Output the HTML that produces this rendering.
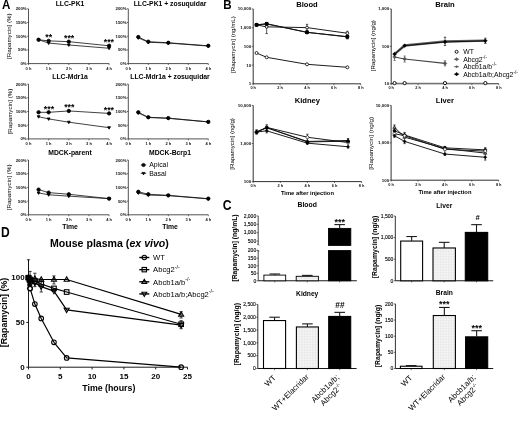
<!DOCTYPE html>
<html><head><meta charset="utf-8"><style>
html,body{margin:0;padding:0;background:#fff;width:520px;height:424px;overflow:hidden}
svg{display:block;font-family:"Liberation Sans",sans-serif;filter:blur(0.45px)}
</style></head><body>
<svg width="520" height="424" viewBox="0 0 520 424">
<defs><pattern id="dots" width="1.6" height="1.6" patternUnits="userSpaceOnUse"><rect width="1.6" height="1.6" fill="#f3f3f3"/><rect width="0.8" height="0.8" fill="#e2e2e2"/></pattern></defs>
<rect width="520" height="424" fill="#fff"/>
<text x="0" y="0" font-size="13.2" text-anchor="start" font-weight="bold" fill="#000" transform="translate(1.9 9) scale(0.88 1)">A</text>
<text x="0" y="0" font-size="13.2" text-anchor="start" font-weight="bold" fill="#000" transform="translate(223.2 9.2) scale(0.88 1)">B</text>
<text x="0" y="0" font-size="14" text-anchor="start" font-weight="bold" fill="#000" transform="translate(222.7 209.8) scale(0.87 1)">C</text>
<text x="0" y="0" font-size="13.8" text-anchor="start" font-weight="bold" fill="#000" transform="translate(1 237.4) scale(0.87 1)">D</text>
<line x1="28.5" y1="8.8" x2="28.5" y2="63.6" stroke="#333" stroke-width="0.85"/>
<line x1="28.5" y1="63.6" x2="109.1" y2="63.6" stroke="#333" stroke-width="0.85"/>
<line x1="27.1" y1="63.6" x2="28.5" y2="63.6" stroke="#1a1a1a" stroke-width="0.6"/>
<text x="26.7" y="65.1" font-size="4.3" text-anchor="end" font-weight="bold" fill="#111">0%</text>
<line x1="27.1" y1="49.9" x2="28.5" y2="49.9" stroke="#1a1a1a" stroke-width="0.6"/>
<text x="26.7" y="51.4" font-size="4.3" text-anchor="end" font-weight="bold" fill="#111">50%</text>
<line x1="27.1" y1="36.2" x2="28.5" y2="36.2" stroke="#1a1a1a" stroke-width="0.6"/>
<text x="26.7" y="37.7" font-size="4.3" text-anchor="end" font-weight="bold" fill="#111">100%</text>
<line x1="27.1" y1="22.5" x2="28.5" y2="22.5" stroke="#1a1a1a" stroke-width="0.6"/>
<text x="26.7" y="24" font-size="4.3" text-anchor="end" font-weight="bold" fill="#111">150%</text>
<line x1="27.1" y1="8.8" x2="28.5" y2="8.8" stroke="#1a1a1a" stroke-width="0.6"/>
<text x="26.7" y="10.3" font-size="4.3" text-anchor="end" font-weight="bold" fill="#111">200%</text>
<line x1="28.5" y1="63.6" x2="28.5" y2="65" stroke="#1a1a1a" stroke-width="0.6"/>
<text x="28.5" y="69.5" font-size="4" text-anchor="middle" font-weight="bold" fill="#111">0 h</text>
<line x1="48.65" y1="63.6" x2="48.65" y2="65" stroke="#1a1a1a" stroke-width="0.6"/>
<text x="48.65" y="69.5" font-size="4" text-anchor="middle" font-weight="bold" fill="#111">1 h</text>
<line x1="68.8" y1="63.6" x2="68.8" y2="65" stroke="#1a1a1a" stroke-width="0.6"/>
<text x="68.8" y="69.5" font-size="4" text-anchor="middle" font-weight="bold" fill="#111">2 h</text>
<line x1="88.95" y1="63.6" x2="88.95" y2="65" stroke="#1a1a1a" stroke-width="0.6"/>
<text x="88.95" y="69.5" font-size="4" text-anchor="middle" font-weight="bold" fill="#111">3 h</text>
<line x1="109.1" y1="63.6" x2="109.1" y2="65" stroke="#1a1a1a" stroke-width="0.6"/>
<text x="109.1" y="69.5" font-size="4" text-anchor="middle" font-weight="bold" fill="#111">4 h</text>
<text x="70" y="6.1" font-size="6.8" text-anchor="middle" font-weight="bold" fill="#000">LLC-PK1</text>
<text x="11.5" y="36.2" font-size="6.2" text-anchor="middle" fill="#000" transform="rotate(-90 11.5 36.2)">[Rapamycin] (%)</text>
<polyline points="38.58,39.76 48.65,43.05 68.8,44.97 109.1,48.26" fill="none" stroke="#111" stroke-width="0.8" stroke-linejoin="round"/>
<polyline points="38.58,39.76 48.65,40.86 68.8,41.68 109.1,45.79" fill="none" stroke="#111" stroke-width="0.8" stroke-linejoin="round"/>
<polygon points="38.58,41.26 40.01,38.79 37.15,38.79" fill="#000" stroke="#000" stroke-width="0.8"/>
<polygon points="48.65,44.54 50.08,42.07 47.22,42.07" fill="#000" stroke="#000" stroke-width="0.8"/>
<polygon points="68.8,46.46 70.23,43.99 67.37,43.99" fill="#000" stroke="#000" stroke-width="0.8"/>
<polygon points="109.1,49.75 110.53,47.28 107.67,47.28" fill="#000" stroke="#000" stroke-width="0.8"/>
<circle cx="38.58" cy="39.76" r="1.7" fill="#000" stroke="#000" stroke-width="0.8"/>
<circle cx="48.65" cy="40.86" r="1.7" fill="#000" stroke="#000" stroke-width="0.8"/>
<circle cx="68.8" cy="41.68" r="1.7" fill="#000" stroke="#000" stroke-width="0.8"/>
<circle cx="109.1" cy="45.79" r="1.7" fill="#000" stroke="#000" stroke-width="0.8"/>
<text x="48.8" y="39.6" font-size="8.8" text-anchor="middle" font-weight="bold" fill="#000">**</text>
<text x="69.1" y="40.7" font-size="8.8" text-anchor="middle" font-weight="bold" fill="#000">***</text>
<text x="108.9" y="45.3" font-size="8.8" text-anchor="middle" font-weight="bold" fill="#000">***</text>
<line x1="128.3" y1="8.8" x2="128.3" y2="63.6" stroke="#333" stroke-width="0.85"/>
<line x1="128.3" y1="63.6" x2="208.3" y2="63.6" stroke="#333" stroke-width="0.85"/>
<line x1="126.9" y1="63.6" x2="128.3" y2="63.6" stroke="#1a1a1a" stroke-width="0.6"/>
<text x="126.5" y="65.1" font-size="4.3" text-anchor="end" font-weight="bold" fill="#111">0%</text>
<line x1="126.9" y1="49.9" x2="128.3" y2="49.9" stroke="#1a1a1a" stroke-width="0.6"/>
<text x="126.5" y="51.4" font-size="4.3" text-anchor="end" font-weight="bold" fill="#111">50%</text>
<line x1="126.9" y1="36.2" x2="128.3" y2="36.2" stroke="#1a1a1a" stroke-width="0.6"/>
<text x="126.5" y="37.7" font-size="4.3" text-anchor="end" font-weight="bold" fill="#111">100%</text>
<line x1="126.9" y1="22.5" x2="128.3" y2="22.5" stroke="#1a1a1a" stroke-width="0.6"/>
<text x="126.5" y="24" font-size="4.3" text-anchor="end" font-weight="bold" fill="#111">150%</text>
<line x1="126.9" y1="8.8" x2="128.3" y2="8.8" stroke="#1a1a1a" stroke-width="0.6"/>
<text x="126.5" y="10.3" font-size="4.3" text-anchor="end" font-weight="bold" fill="#111">200%</text>
<line x1="128.3" y1="63.6" x2="128.3" y2="65" stroke="#1a1a1a" stroke-width="0.6"/>
<text x="128.3" y="69.5" font-size="4" text-anchor="middle" font-weight="bold" fill="#111">0 h</text>
<line x1="148.3" y1="63.6" x2="148.3" y2="65" stroke="#1a1a1a" stroke-width="0.6"/>
<text x="148.3" y="69.5" font-size="4" text-anchor="middle" font-weight="bold" fill="#111">1 h</text>
<line x1="168.3" y1="63.6" x2="168.3" y2="65" stroke="#1a1a1a" stroke-width="0.6"/>
<text x="168.3" y="69.5" font-size="4" text-anchor="middle" font-weight="bold" fill="#111">2 h</text>
<line x1="188.3" y1="63.6" x2="188.3" y2="65" stroke="#1a1a1a" stroke-width="0.6"/>
<text x="188.3" y="69.5" font-size="4" text-anchor="middle" font-weight="bold" fill="#111">3 h</text>
<line x1="208.3" y1="63.6" x2="208.3" y2="65" stroke="#1a1a1a" stroke-width="0.6"/>
<text x="208.3" y="69.5" font-size="4" text-anchor="middle" font-weight="bold" fill="#111">4 h</text>
<text x="170" y="6.1" font-size="6.8" text-anchor="middle" font-weight="bold" fill="#000">LLC-PK1 + zosuquidar</text>
<polyline points="138.3,37.84 148.3,42.23 168.3,43.05 208.3,46.06" fill="none" stroke="#111" stroke-width="0.8" stroke-linejoin="round"/>
<polyline points="138.3,37.02 148.3,41.68 168.3,42.78 208.3,45.79" fill="none" stroke="#111" stroke-width="0.8" stroke-linejoin="round"/>
<polygon points="138.3,39.34 139.73,36.87 136.87,36.87" fill="#000" stroke="#000" stroke-width="0.8"/>
<polygon points="148.3,43.72 149.73,41.25 146.87,41.25" fill="#000" stroke="#000" stroke-width="0.8"/>
<polygon points="168.3,44.54 169.73,42.07 166.87,42.07" fill="#000" stroke="#000" stroke-width="0.8"/>
<polygon points="208.3,47.56 209.73,45.09 206.87,45.09" fill="#000" stroke="#000" stroke-width="0.8"/>
<circle cx="138.3" cy="37.02" r="1.7" fill="#000" stroke="#000" stroke-width="0.8"/>
<circle cx="148.3" cy="41.68" r="1.7" fill="#000" stroke="#000" stroke-width="0.8"/>
<circle cx="168.3" cy="42.78" r="1.7" fill="#000" stroke="#000" stroke-width="0.8"/>
<circle cx="208.3" cy="45.79" r="1.7" fill="#000" stroke="#000" stroke-width="0.8"/>
<line x1="28.5" y1="84.1" x2="28.5" y2="138.9" stroke="#333" stroke-width="0.85"/>
<line x1="28.5" y1="138.9" x2="109.1" y2="138.9" stroke="#333" stroke-width="0.85"/>
<line x1="27.1" y1="138.9" x2="28.5" y2="138.9" stroke="#1a1a1a" stroke-width="0.6"/>
<text x="26.7" y="140.4" font-size="4.3" text-anchor="end" font-weight="bold" fill="#111">0%</text>
<line x1="27.1" y1="125.2" x2="28.5" y2="125.2" stroke="#1a1a1a" stroke-width="0.6"/>
<text x="26.7" y="126.7" font-size="4.3" text-anchor="end" font-weight="bold" fill="#111">50%</text>
<line x1="27.1" y1="111.5" x2="28.5" y2="111.5" stroke="#1a1a1a" stroke-width="0.6"/>
<text x="26.7" y="113" font-size="4.3" text-anchor="end" font-weight="bold" fill="#111">100%</text>
<line x1="27.1" y1="97.8" x2="28.5" y2="97.8" stroke="#1a1a1a" stroke-width="0.6"/>
<text x="26.7" y="99.3" font-size="4.3" text-anchor="end" font-weight="bold" fill="#111">150%</text>
<line x1="27.1" y1="84.1" x2="28.5" y2="84.1" stroke="#1a1a1a" stroke-width="0.6"/>
<text x="26.7" y="85.6" font-size="4.3" text-anchor="end" font-weight="bold" fill="#111">200%</text>
<line x1="28.5" y1="138.9" x2="28.5" y2="140.3" stroke="#1a1a1a" stroke-width="0.6"/>
<text x="28.5" y="144.8" font-size="4" text-anchor="middle" font-weight="bold" fill="#111">0 h</text>
<line x1="48.65" y1="138.9" x2="48.65" y2="140.3" stroke="#1a1a1a" stroke-width="0.6"/>
<text x="48.65" y="144.8" font-size="4" text-anchor="middle" font-weight="bold" fill="#111">1 h</text>
<line x1="68.8" y1="138.9" x2="68.8" y2="140.3" stroke="#1a1a1a" stroke-width="0.6"/>
<text x="68.8" y="144.8" font-size="4" text-anchor="middle" font-weight="bold" fill="#111">2 h</text>
<line x1="88.95" y1="138.9" x2="88.95" y2="140.3" stroke="#1a1a1a" stroke-width="0.6"/>
<text x="88.95" y="144.8" font-size="4" text-anchor="middle" font-weight="bold" fill="#111">3 h</text>
<line x1="109.1" y1="138.9" x2="109.1" y2="140.3" stroke="#1a1a1a" stroke-width="0.6"/>
<text x="109.1" y="144.8" font-size="4" text-anchor="middle" font-weight="bold" fill="#111">4 h</text>
<text x="70" y="79" font-size="6.8" text-anchor="middle" font-weight="bold" fill="#000">LLC-Mdr1a</text>
<text x="11.5" y="111.5" font-size="6.2" text-anchor="middle" fill="#000" transform="rotate(-90 11.5 111.5)">[Rapamycin] (%)</text>
<polyline points="38.58,116.71 48.65,118.9 68.8,122.19 109.1,127.67" fill="none" stroke="#111" stroke-width="0.8" stroke-linejoin="round"/>
<polyline points="38.58,112.32 48.65,112.32 68.8,110.95 109.1,113.42" fill="none" stroke="#111" stroke-width="0.8" stroke-linejoin="round"/>
<polygon points="38.58,118.2 40.01,115.73 37.15,115.73" fill="#000" stroke="#000" stroke-width="0.8"/>
<polygon points="48.65,120.39 50.08,117.92 47.22,117.92" fill="#000" stroke="#000" stroke-width="0.8"/>
<polygon points="68.8,123.68 70.23,121.21 67.37,121.21" fill="#000" stroke="#000" stroke-width="0.8"/>
<polygon points="109.1,129.16 110.53,126.69 107.67,126.69" fill="#000" stroke="#000" stroke-width="0.8"/>
<circle cx="38.58" cy="112.32" r="1.7" fill="#000" stroke="#000" stroke-width="0.8"/>
<circle cx="48.65" cy="112.32" r="1.7" fill="#000" stroke="#000" stroke-width="0.8"/>
<circle cx="68.8" cy="110.95" r="1.7" fill="#000" stroke="#000" stroke-width="0.8"/>
<circle cx="109.1" cy="113.42" r="1.7" fill="#000" stroke="#000" stroke-width="0.8"/>
<text x="49" y="111.9" font-size="8.8" text-anchor="middle" font-weight="bold" fill="#000">***</text>
<text x="69.3" y="110.1" font-size="8.8" text-anchor="middle" font-weight="bold" fill="#000">***</text>
<text x="108.9" y="113.1" font-size="8.8" text-anchor="middle" font-weight="bold" fill="#000">***</text>
<line x1="128.3" y1="84.1" x2="128.3" y2="138.9" stroke="#333" stroke-width="0.85"/>
<line x1="128.3" y1="138.9" x2="208.3" y2="138.9" stroke="#333" stroke-width="0.85"/>
<line x1="126.9" y1="138.9" x2="128.3" y2="138.9" stroke="#1a1a1a" stroke-width="0.6"/>
<text x="126.5" y="140.4" font-size="4.3" text-anchor="end" font-weight="bold" fill="#111">0%</text>
<line x1="126.9" y1="125.2" x2="128.3" y2="125.2" stroke="#1a1a1a" stroke-width="0.6"/>
<text x="126.5" y="126.7" font-size="4.3" text-anchor="end" font-weight="bold" fill="#111">50%</text>
<line x1="126.9" y1="111.5" x2="128.3" y2="111.5" stroke="#1a1a1a" stroke-width="0.6"/>
<text x="126.5" y="113" font-size="4.3" text-anchor="end" font-weight="bold" fill="#111">100%</text>
<line x1="126.9" y1="97.8" x2="128.3" y2="97.8" stroke="#1a1a1a" stroke-width="0.6"/>
<text x="126.5" y="99.3" font-size="4.3" text-anchor="end" font-weight="bold" fill="#111">150%</text>
<line x1="126.9" y1="84.1" x2="128.3" y2="84.1" stroke="#1a1a1a" stroke-width="0.6"/>
<text x="126.5" y="85.6" font-size="4.3" text-anchor="end" font-weight="bold" fill="#111">200%</text>
<line x1="128.3" y1="138.9" x2="128.3" y2="140.3" stroke="#1a1a1a" stroke-width="0.6"/>
<text x="128.3" y="144.8" font-size="4" text-anchor="middle" font-weight="bold" fill="#111">0 h</text>
<line x1="148.3" y1="138.9" x2="148.3" y2="140.3" stroke="#1a1a1a" stroke-width="0.6"/>
<text x="148.3" y="144.8" font-size="4" text-anchor="middle" font-weight="bold" fill="#111">1 h</text>
<line x1="168.3" y1="138.9" x2="168.3" y2="140.3" stroke="#1a1a1a" stroke-width="0.6"/>
<text x="168.3" y="144.8" font-size="4" text-anchor="middle" font-weight="bold" fill="#111">2 h</text>
<line x1="188.3" y1="138.9" x2="188.3" y2="140.3" stroke="#1a1a1a" stroke-width="0.6"/>
<text x="188.3" y="144.8" font-size="4" text-anchor="middle" font-weight="bold" fill="#111">3 h</text>
<line x1="208.3" y1="138.9" x2="208.3" y2="140.3" stroke="#1a1a1a" stroke-width="0.6"/>
<text x="208.3" y="144.8" font-size="4" text-anchor="middle" font-weight="bold" fill="#111">4 h</text>
<text x="170" y="79" font-size="6.8" text-anchor="middle" font-weight="bold" fill="#000">LLC-Mdr1a + zosuquidar</text>
<polyline points="138.3,112.87 148.3,117.53 168.3,118.35 208.3,121.91" fill="none" stroke="#111" stroke-width="0.8" stroke-linejoin="round"/>
<polyline points="138.3,112.32 148.3,117.25 168.3,118.08 208.3,121.91" fill="none" stroke="#111" stroke-width="0.8" stroke-linejoin="round"/>
<polygon points="138.3,114.37 139.73,111.9 136.87,111.9" fill="#000" stroke="#000" stroke-width="0.8"/>
<polygon points="148.3,119.02 149.73,116.55 146.87,116.55" fill="#000" stroke="#000" stroke-width="0.8"/>
<polygon points="168.3,119.85 169.73,117.38 166.87,117.38" fill="#000" stroke="#000" stroke-width="0.8"/>
<polygon points="208.3,123.41 209.73,120.94 206.87,120.94" fill="#000" stroke="#000" stroke-width="0.8"/>
<circle cx="138.3" cy="112.32" r="1.7" fill="#000" stroke="#000" stroke-width="0.8"/>
<circle cx="148.3" cy="117.25" r="1.7" fill="#000" stroke="#000" stroke-width="0.8"/>
<circle cx="168.3" cy="118.08" r="1.7" fill="#000" stroke="#000" stroke-width="0.8"/>
<circle cx="208.3" cy="121.91" r="1.7" fill="#000" stroke="#000" stroke-width="0.8"/>
<line x1="28.5" y1="160" x2="28.5" y2="214.8" stroke="#333" stroke-width="0.85"/>
<line x1="28.5" y1="214.8" x2="109.1" y2="214.8" stroke="#333" stroke-width="0.85"/>
<line x1="27.1" y1="214.8" x2="28.5" y2="214.8" stroke="#1a1a1a" stroke-width="0.6"/>
<text x="26.7" y="216.3" font-size="4.3" text-anchor="end" font-weight="bold" fill="#111">0%</text>
<line x1="27.1" y1="201.1" x2="28.5" y2="201.1" stroke="#1a1a1a" stroke-width="0.6"/>
<text x="26.7" y="202.6" font-size="4.3" text-anchor="end" font-weight="bold" fill="#111">50%</text>
<line x1="27.1" y1="187.4" x2="28.5" y2="187.4" stroke="#1a1a1a" stroke-width="0.6"/>
<text x="26.7" y="188.9" font-size="4.3" text-anchor="end" font-weight="bold" fill="#111">100%</text>
<line x1="27.1" y1="173.7" x2="28.5" y2="173.7" stroke="#1a1a1a" stroke-width="0.6"/>
<text x="26.7" y="175.2" font-size="4.3" text-anchor="end" font-weight="bold" fill="#111">150%</text>
<line x1="27.1" y1="160" x2="28.5" y2="160" stroke="#1a1a1a" stroke-width="0.6"/>
<text x="26.7" y="161.5" font-size="4.3" text-anchor="end" font-weight="bold" fill="#111">200%</text>
<line x1="28.5" y1="214.8" x2="28.5" y2="216.2" stroke="#1a1a1a" stroke-width="0.6"/>
<text x="28.5" y="220.7" font-size="4" text-anchor="middle" font-weight="bold" fill="#111">0 h</text>
<line x1="48.65" y1="214.8" x2="48.65" y2="216.2" stroke="#1a1a1a" stroke-width="0.6"/>
<text x="48.65" y="220.7" font-size="4" text-anchor="middle" font-weight="bold" fill="#111">1 h</text>
<line x1="68.8" y1="214.8" x2="68.8" y2="216.2" stroke="#1a1a1a" stroke-width="0.6"/>
<text x="68.8" y="220.7" font-size="4" text-anchor="middle" font-weight="bold" fill="#111">2 h</text>
<line x1="88.95" y1="214.8" x2="88.95" y2="216.2" stroke="#1a1a1a" stroke-width="0.6"/>
<text x="88.95" y="220.7" font-size="4" text-anchor="middle" font-weight="bold" fill="#111">3 h</text>
<line x1="109.1" y1="214.8" x2="109.1" y2="216.2" stroke="#1a1a1a" stroke-width="0.6"/>
<text x="109.1" y="220.7" font-size="4" text-anchor="middle" font-weight="bold" fill="#111">4 h</text>
<text x="70" y="154.6" font-size="6.8" text-anchor="middle" font-weight="bold" fill="#000">MDCK-parent</text>
<text x="11.5" y="187.4" font-size="6.2" text-anchor="middle" fill="#000" transform="rotate(-90 11.5 187.4)">[Rapamycin] (%)</text>
<polyline points="38.58,192.88 48.65,194.8 68.8,196.17 109.1,198.63" fill="none" stroke="#111" stroke-width="0.8" stroke-linejoin="round"/>
<polyline points="38.58,189.59 48.65,192.61 68.8,194.25 109.1,198.63" fill="none" stroke="#111" stroke-width="0.8" stroke-linejoin="round"/>
<polygon points="38.58,194.38 40.01,191.91 37.15,191.91" fill="#000" stroke="#000" stroke-width="0.8"/>
<polygon points="48.65,196.29 50.08,193.82 47.22,193.82" fill="#000" stroke="#000" stroke-width="0.8"/>
<polygon points="68.8,197.66 70.23,195.19 67.37,195.19" fill="#000" stroke="#000" stroke-width="0.8"/>
<polygon points="109.1,200.13 110.53,197.66 107.67,197.66" fill="#000" stroke="#000" stroke-width="0.8"/>
<circle cx="38.58" cy="189.59" r="1.7" fill="#000" stroke="#000" stroke-width="0.8"/>
<circle cx="48.65" cy="192.61" r="1.7" fill="#000" stroke="#000" stroke-width="0.8"/>
<circle cx="68.8" cy="194.25" r="1.7" fill="#000" stroke="#000" stroke-width="0.8"/>
<circle cx="109.1" cy="198.63" r="1.7" fill="#000" stroke="#000" stroke-width="0.8"/>
<text x="70" y="228.6" font-size="6.8" text-anchor="middle" font-weight="bold" fill="#000">Time</text>
<line x1="128.3" y1="160" x2="128.3" y2="214.8" stroke="#333" stroke-width="0.85"/>
<line x1="128.3" y1="214.8" x2="208.3" y2="214.8" stroke="#333" stroke-width="0.85"/>
<line x1="126.9" y1="214.8" x2="128.3" y2="214.8" stroke="#1a1a1a" stroke-width="0.6"/>
<text x="126.5" y="216.3" font-size="4.3" text-anchor="end" font-weight="bold" fill="#111">0%</text>
<line x1="126.9" y1="201.1" x2="128.3" y2="201.1" stroke="#1a1a1a" stroke-width="0.6"/>
<text x="126.5" y="202.6" font-size="4.3" text-anchor="end" font-weight="bold" fill="#111">50%</text>
<line x1="126.9" y1="187.4" x2="128.3" y2="187.4" stroke="#1a1a1a" stroke-width="0.6"/>
<text x="126.5" y="188.9" font-size="4.3" text-anchor="end" font-weight="bold" fill="#111">100%</text>
<line x1="126.9" y1="173.7" x2="128.3" y2="173.7" stroke="#1a1a1a" stroke-width="0.6"/>
<text x="126.5" y="175.2" font-size="4.3" text-anchor="end" font-weight="bold" fill="#111">150%</text>
<line x1="126.9" y1="160" x2="128.3" y2="160" stroke="#1a1a1a" stroke-width="0.6"/>
<text x="126.5" y="161.5" font-size="4.3" text-anchor="end" font-weight="bold" fill="#111">200%</text>
<line x1="128.3" y1="214.8" x2="128.3" y2="216.2" stroke="#1a1a1a" stroke-width="0.6"/>
<text x="128.3" y="220.7" font-size="4" text-anchor="middle" font-weight="bold" fill="#111">0 h</text>
<line x1="148.3" y1="214.8" x2="148.3" y2="216.2" stroke="#1a1a1a" stroke-width="0.6"/>
<text x="148.3" y="220.7" font-size="4" text-anchor="middle" font-weight="bold" fill="#111">1 h</text>
<line x1="168.3" y1="214.8" x2="168.3" y2="216.2" stroke="#1a1a1a" stroke-width="0.6"/>
<text x="168.3" y="220.7" font-size="4" text-anchor="middle" font-weight="bold" fill="#111">2 h</text>
<line x1="188.3" y1="214.8" x2="188.3" y2="216.2" stroke="#1a1a1a" stroke-width="0.6"/>
<text x="188.3" y="220.7" font-size="4" text-anchor="middle" font-weight="bold" fill="#111">3 h</text>
<line x1="208.3" y1="214.8" x2="208.3" y2="216.2" stroke="#1a1a1a" stroke-width="0.6"/>
<text x="208.3" y="220.7" font-size="4" text-anchor="middle" font-weight="bold" fill="#111">4 h</text>
<text x="170" y="154.6" font-size="6.8" text-anchor="middle" font-weight="bold" fill="#000">MDCK-Bcrp1</text>
<polyline points="138.3,192.88 148.3,195.07 168.3,195.62 208.3,198.91" fill="none" stroke="#111" stroke-width="0.8" stroke-linejoin="round"/>
<polyline points="138.3,191.78 148.3,194.25 168.3,195.35 208.3,198.63" fill="none" stroke="#111" stroke-width="0.8" stroke-linejoin="round"/>
<polygon points="138.3,194.38 139.73,191.91 136.87,191.91" fill="#000" stroke="#000" stroke-width="0.8"/>
<polygon points="148.3,196.57 149.73,194.1 146.87,194.1" fill="#000" stroke="#000" stroke-width="0.8"/>
<polygon points="168.3,197.12 169.73,194.65 166.87,194.65" fill="#000" stroke="#000" stroke-width="0.8"/>
<polygon points="208.3,200.4 209.73,197.93 206.87,197.93" fill="#000" stroke="#000" stroke-width="0.8"/>
<circle cx="138.3" cy="191.78" r="1.7" fill="#000" stroke="#000" stroke-width="0.8"/>
<circle cx="148.3" cy="194.25" r="1.7" fill="#000" stroke="#000" stroke-width="0.8"/>
<circle cx="168.3" cy="195.35" r="1.7" fill="#000" stroke="#000" stroke-width="0.8"/>
<circle cx="208.3" cy="198.63" r="1.7" fill="#000" stroke="#000" stroke-width="0.8"/>
<text x="170" y="228.6" font-size="6.8" text-anchor="middle" font-weight="bold" fill="#000">Time</text>
<circle cx="143.5" cy="165" r="1.6" fill="#000" stroke="#000" stroke-width="0.8"/>
<line x1="140.8" y1="165" x2="146.2" y2="165" stroke="#1a1a1a" stroke-width="0.8"/>
<text x="149.2" y="167.4" font-size="6.9" text-anchor="start" fill="#000">Apical</text>
<polygon points="143.5,174.9 144.93,172.43 142.07,172.43" fill="#000" stroke="#000" stroke-width="0.8"/>
<line x1="140.8" y1="173.4" x2="146.2" y2="173.4" stroke="#1a1a1a" stroke-width="0.8"/>
<text x="149.2" y="175.9" font-size="6.9" text-anchor="start" fill="#000">Basal</text>
<line x1="253.2" y1="8.9" x2="253.2" y2="83.8" stroke="#1a1a1a" stroke-width="0.9"/>
<line x1="253.2" y1="83.8" x2="360.8" y2="83.8" stroke="#1a1a1a" stroke-width="0.9"/>
<line x1="251.7" y1="83.8" x2="253.2" y2="83.8" stroke="#1a1a1a" stroke-width="0.6"/>
<text x="251.2" y="85.35" font-size="4.4" text-anchor="end" font-weight="bold" fill="#111">1</text>
<line x1="251.7" y1="65.08" x2="253.2" y2="65.08" stroke="#1a1a1a" stroke-width="0.6"/>
<text x="251.2" y="66.62" font-size="4.4" text-anchor="end" font-weight="bold" fill="#111">10</text>
<line x1="251.7" y1="46.35" x2="253.2" y2="46.35" stroke="#1a1a1a" stroke-width="0.6"/>
<text x="251.2" y="47.9" font-size="4.4" text-anchor="end" font-weight="bold" fill="#111">100</text>
<line x1="251.7" y1="27.62" x2="253.2" y2="27.62" stroke="#1a1a1a" stroke-width="0.6"/>
<text x="251.2" y="29.18" font-size="4.4" text-anchor="end" font-weight="bold" fill="#111">1,000</text>
<line x1="251.7" y1="8.9" x2="253.2" y2="8.9" stroke="#1a1a1a" stroke-width="0.6"/>
<text x="251.2" y="10.45" font-size="4.4" text-anchor="end" font-weight="bold" fill="#111">10,000</text>
<line x1="253.2" y1="83.8" x2="253.2" y2="85.2" stroke="#1a1a1a" stroke-width="0.6"/>
<text x="253.2" y="89.3" font-size="3.9" text-anchor="middle" font-weight="bold" fill="#111">0 h</text>
<line x1="280.1" y1="83.8" x2="280.1" y2="85.2" stroke="#1a1a1a" stroke-width="0.6"/>
<text x="280.1" y="89.3" font-size="3.9" text-anchor="middle" font-weight="bold" fill="#111">2 h</text>
<line x1="307" y1="83.8" x2="307" y2="85.2" stroke="#1a1a1a" stroke-width="0.6"/>
<text x="307" y="89.3" font-size="3.9" text-anchor="middle" font-weight="bold" fill="#111">4 h</text>
<line x1="333.9" y1="83.8" x2="333.9" y2="85.2" stroke="#1a1a1a" stroke-width="0.6"/>
<text x="333.9" y="89.3" font-size="3.9" text-anchor="middle" font-weight="bold" fill="#111">6 h</text>
<line x1="360.8" y1="83.8" x2="360.8" y2="85.2" stroke="#1a1a1a" stroke-width="0.6"/>
<text x="360.8" y="89.3" font-size="3.9" text-anchor="middle" font-weight="bold" fill="#111">8 h</text>
<text x="307" y="7.4" font-size="7.6" text-anchor="middle" font-weight="bold" fill="#000">Blood</text>
<text x="234.9" y="44.6" font-size="6.1" text-anchor="middle" fill="#000" transform="rotate(-90 234.9 44.6)">[Rapamycin] (ng/mL)</text>
<polyline points="256.56,53.03 266.65,57.3 307,64.3 347.35,67.31" fill="none" stroke="#111" stroke-width="0.95" stroke-linejoin="round"/>
<polyline points="256.56,24.89 266.65,23.7 307,32.34 347.35,36.89" fill="none" stroke="#111" stroke-width="0.95" stroke-linejoin="round"/>
<polyline points="256.56,24.89 266.65,26.85 307,27.62 347.35,33.26" fill="none" stroke="#111" stroke-width="0.95" stroke-linejoin="round"/>
<polyline points="256.56,24.89 266.65,24.01 307,32.34 347.35,36.64" fill="none" stroke="#111" stroke-width="0.95" stroke-linejoin="round"/>
<line x1="266.65" y1="22.41" x2="266.65" y2="33.59" stroke="#111" stroke-width="0.7"/>
<line x1="265.45" y1="22.41" x2="267.85" y2="22.41" stroke="#111" stroke-width="0.7"/>
<line x1="265.45" y1="33.59" x2="267.85" y2="33.59" stroke="#111" stroke-width="0.7"/>
<line x1="307" y1="24.33" x2="307" y2="30.53" stroke="#111" stroke-width="0.7"/>
<line x1="305.8" y1="24.33" x2="308.2" y2="24.33" stroke="#111" stroke-width="0.7"/>
<line x1="305.8" y1="30.53" x2="308.2" y2="30.53" stroke="#111" stroke-width="0.7"/>
<line x1="347.35" y1="31.25" x2="347.35" y2="35.49" stroke="#111" stroke-width="0.7"/>
<line x1="346.15" y1="31.25" x2="348.55" y2="31.25" stroke="#111" stroke-width="0.7"/>
<line x1="346.15" y1="35.49" x2="348.55" y2="35.49" stroke="#111" stroke-width="0.7"/>
<line x1="347.35" y1="35.08" x2="347.35" y2="38.9" stroke="#111" stroke-width="0.7"/>
<line x1="346.15" y1="35.08" x2="348.55" y2="35.08" stroke="#111" stroke-width="0.7"/>
<line x1="346.15" y1="38.9" x2="348.55" y2="38.9" stroke="#111" stroke-width="0.7"/>
<circle cx="256.56" cy="53.03" r="1.5" fill="#fff" stroke="#000" stroke-width="0.8"/>
<circle cx="266.65" cy="57.3" r="1.5" fill="#fff" stroke="#000" stroke-width="0.8"/>
<circle cx="307" cy="64.3" r="1.5" fill="#fff" stroke="#000" stroke-width="0.8"/>
<circle cx="347.35" cy="67.31" r="1.5" fill="#fff" stroke="#000" stroke-width="0.8"/>
<circle cx="256.56" cy="24.89" r="1.4" fill="#fff" stroke="#000" stroke-width="0.8"/>
<circle cx="266.65" cy="26.85" r="1.4" fill="#fff" stroke="#000" stroke-width="0.8"/>
<circle cx="307" cy="27.62" r="1.4" fill="#fff" stroke="#000" stroke-width="0.8"/>
<circle cx="347.35" cy="33.26" r="1.4" fill="#fff" stroke="#000" stroke-width="0.8"/>
<rect x="255.26" y="23.59" width="2.6" height="2.6" fill="#fff" stroke="#000" stroke-width="0.8"/>
<rect x="265.35" y="22.4" width="2.6" height="2.6" fill="#fff" stroke="#000" stroke-width="0.8"/>
<rect x="305.7" y="31.04" width="2.6" height="2.6" fill="#fff" stroke="#000" stroke-width="0.8"/>
<rect x="346.05" y="35.59" width="2.6" height="2.6" fill="#fff" stroke="#000" stroke-width="0.8"/>
<circle cx="256.56" cy="24.89" r="1.6" fill="#000" stroke="#000" stroke-width="0.8"/>
<circle cx="266.65" cy="24.01" r="1.6" fill="#000" stroke="#000" stroke-width="0.8"/>
<circle cx="307" cy="32.34" r="1.6" fill="#000" stroke="#000" stroke-width="0.8"/>
<circle cx="347.35" cy="36.64" r="1.6" fill="#000" stroke="#000" stroke-width="0.8"/>
<line x1="391.2" y1="8.9" x2="391.2" y2="83.75" stroke="#1a1a1a" stroke-width="0.9"/>
<line x1="391.2" y1="83.75" x2="498.8" y2="83.75" stroke="#1a1a1a" stroke-width="0.9"/>
<line x1="389.7" y1="83.75" x2="391.2" y2="83.75" stroke="#1a1a1a" stroke-width="0.6"/>
<text x="389.2" y="85.3" font-size="4.4" text-anchor="end" font-weight="bold" fill="#111">10</text>
<line x1="389.7" y1="46.33" x2="391.2" y2="46.33" stroke="#1a1a1a" stroke-width="0.6"/>
<text x="389.2" y="47.88" font-size="4.4" text-anchor="end" font-weight="bold" fill="#111">100</text>
<line x1="389.7" y1="8.9" x2="391.2" y2="8.9" stroke="#1a1a1a" stroke-width="0.6"/>
<text x="389.2" y="10.45" font-size="4.4" text-anchor="end" font-weight="bold" fill="#111">1,000</text>
<line x1="391.2" y1="83.75" x2="391.2" y2="85.15" stroke="#1a1a1a" stroke-width="0.6"/>
<text x="391.2" y="89.25" font-size="3.9" text-anchor="middle" font-weight="bold" fill="#111">0 h</text>
<line x1="418.1" y1="83.75" x2="418.1" y2="85.15" stroke="#1a1a1a" stroke-width="0.6"/>
<text x="418.1" y="89.25" font-size="3.9" text-anchor="middle" font-weight="bold" fill="#111">2 h</text>
<line x1="445" y1="83.75" x2="445" y2="85.15" stroke="#1a1a1a" stroke-width="0.6"/>
<text x="445" y="89.25" font-size="3.9" text-anchor="middle" font-weight="bold" fill="#111">4 h</text>
<line x1="471.9" y1="83.75" x2="471.9" y2="85.15" stroke="#1a1a1a" stroke-width="0.6"/>
<text x="471.9" y="89.25" font-size="3.9" text-anchor="middle" font-weight="bold" fill="#111">6 h</text>
<line x1="498.8" y1="83.75" x2="498.8" y2="85.15" stroke="#1a1a1a" stroke-width="0.6"/>
<text x="498.8" y="89.25" font-size="3.9" text-anchor="middle" font-weight="bold" fill="#111">8 h</text>
<text x="445" y="7.4" font-size="7.6" text-anchor="middle" font-weight="bold" fill="#000">Brain</text>
<text x="375.2" y="45.7" font-size="6.05" text-anchor="middle" fill="#000" transform="rotate(-90 375.2 45.7)">[Rapamycin] (ng/g)</text>
<polyline points="394.56,83.11 404.65,83.11 445,83.11 485.35,83.11" fill="none" stroke="#888" stroke-width="0.7" stroke-linejoin="round"/>
<polyline points="394.56,56.95 404.65,58.95 445,63.39" fill="none" stroke="#444" stroke-width="1.1" stroke-linejoin="round"/>
<polyline points="394.56,54.09 404.65,45.53 445,41.45 485.35,40.63" fill="none" stroke="#5a5a5a" stroke-width="2.4" stroke-linejoin="round"/>
<polyline points="394.56,54.09 404.65,45.69 445,41.94 485.35,40.86" fill="none" stroke="#111" stroke-width="1" stroke-linejoin="round"/>
<line x1="394.56" y1="53.58" x2="394.56" y2="60.42" stroke="#555" stroke-width="0.7"/>
<line x1="393.36" y1="53.58" x2="395.76" y2="53.58" stroke="#555" stroke-width="0.7"/>
<line x1="393.36" y1="60.42" x2="395.76" y2="60.42" stroke="#555" stroke-width="0.7"/>
<line x1="404.65" y1="56.04" x2="404.65" y2="62.05" stroke="#555" stroke-width="0.7"/>
<line x1="403.45" y1="56.04" x2="405.85" y2="56.04" stroke="#555" stroke-width="0.7"/>
<line x1="403.45" y1="62.05" x2="405.85" y2="62.05" stroke="#555" stroke-width="0.7"/>
<line x1="445" y1="60.82" x2="445" y2="65.89" stroke="#555" stroke-width="0.7"/>
<line x1="443.8" y1="60.82" x2="446.2" y2="60.82" stroke="#555" stroke-width="0.7"/>
<line x1="443.8" y1="65.89" x2="446.2" y2="65.89" stroke="#555" stroke-width="0.7"/>
<line x1="445" y1="37.23" x2="445" y2="45.53" stroke="#111" stroke-width="0.7"/>
<line x1="443.8" y1="37.23" x2="446.2" y2="37.23" stroke="#111" stroke-width="0.7"/>
<line x1="443.8" y1="45.53" x2="446.2" y2="45.53" stroke="#111" stroke-width="0.7"/>
<line x1="485.35" y1="38.19" x2="485.35" y2="43.36" stroke="#111" stroke-width="0.7"/>
<line x1="484.15" y1="38.19" x2="486.55" y2="38.19" stroke="#111" stroke-width="0.7"/>
<line x1="484.15" y1="43.36" x2="486.55" y2="43.36" stroke="#111" stroke-width="0.7"/>
<circle cx="394.56" cy="83.11" r="1.6" fill="#fff" stroke="#000" stroke-width="0.9"/>
<circle cx="404.65" cy="83.11" r="1.6" fill="#fff" stroke="#000" stroke-width="0.9"/>
<circle cx="445" cy="83.11" r="1.6" fill="#fff" stroke="#000" stroke-width="0.9"/>
<circle cx="485.35" cy="83.11" r="1.6" fill="#fff" stroke="#000" stroke-width="0.9"/>
<polygon points="394.56,55.15 396.36,56.95 394.56,58.75 392.76,56.95" fill="#555" stroke="#444" stroke-width="0.5"/>
<polygon points="404.65,57.15 406.45,58.95 404.65,60.75 402.85,58.95" fill="#555" stroke="#444" stroke-width="0.5"/>
<polygon points="445,61.59 446.8,63.39 445,65.19 443.2,63.39" fill="#555" stroke="#444" stroke-width="0.5"/>
<polygon points="394.56,52.19 396.46,54.09 394.56,55.99 392.66,54.09" fill="#000" stroke="#000" stroke-width="0.5"/>
<polygon points="404.65,43.79 406.55,45.69 404.65,47.59 402.75,45.69" fill="#000" stroke="#000" stroke-width="0.5"/>
<polygon points="445,40.04 446.9,41.94 445,43.84 443.1,41.94" fill="#000" stroke="#000" stroke-width="0.5"/>
<polygon points="485.35,38.96 487.25,40.86 485.35,42.76 483.45,40.86" fill="#000" stroke="#000" stroke-width="0.5"/>
<circle cx="456.6" cy="51.8" r="1.5" fill="#fff" stroke="#000" stroke-width="0.9"/>
<text x="463.2" y="54.2" font-size="6.85" text-anchor="start" fill="#000">WT</text>
<polygon points="456.6,57.45 458.4,59.25 456.6,61.05 454.8,59.25" fill="#666" stroke="#555" stroke-width="0.4"/>
<line x1="454.1" y1="59.25" x2="459.1" y2="59.25" stroke="#555" stroke-width="0.8"/>
<text x="463.2" y="61.65" font-size="6.85" text-anchor="start" fill="#000">Abcg2<tspan font-size="4.6" dy="-2.8">-/-</tspan></text>
<polygon points="456.6,65.5 457.8,66.7 456.6,67.9 455.4,66.7" fill="#555" stroke="#555" stroke-width="0.4"/>
<line x1="454.1" y1="66.7" x2="459.1" y2="66.7" stroke="#555" stroke-width="0.8"/>
<text x="463.2" y="69.1" font-size="6.85" text-anchor="start" fill="#000">Abcb1a/b<tspan font-size="4.6" dy="-2.8">-/-</tspan></text>
<polygon points="456.6,72.35 458.4,74.15 456.6,75.95 454.8,74.15" fill="#000" stroke="#000" stroke-width="0.4"/>
<line x1="454.1" y1="74.15" x2="459.1" y2="74.15" stroke="#000" stroke-width="0.8"/>
<text x="463.2" y="76.55" font-size="6.85" text-anchor="start" fill="#000">Abcb1a/b;Abcg2<tspan font-size="4.6" dy="-2.8">-/-</tspan></text>
<line x1="253.2" y1="105.4" x2="253.2" y2="181.6" stroke="#1a1a1a" stroke-width="0.9"/>
<line x1="253.2" y1="181.6" x2="361.6" y2="181.6" stroke="#1a1a1a" stroke-width="0.9"/>
<line x1="251.7" y1="181.6" x2="253.2" y2="181.6" stroke="#1a1a1a" stroke-width="0.6"/>
<text x="251.2" y="183.15" font-size="4.4" text-anchor="end" font-weight="bold" fill="#111">100</text>
<line x1="251.7" y1="143.5" x2="253.2" y2="143.5" stroke="#1a1a1a" stroke-width="0.6"/>
<text x="251.2" y="145.05" font-size="4.4" text-anchor="end" font-weight="bold" fill="#111">1,000</text>
<line x1="251.7" y1="105.4" x2="253.2" y2="105.4" stroke="#1a1a1a" stroke-width="0.6"/>
<text x="251.2" y="106.95" font-size="4.4" text-anchor="end" font-weight="bold" fill="#111">10,000</text>
<line x1="253.2" y1="181.6" x2="253.2" y2="183" stroke="#1a1a1a" stroke-width="0.6"/>
<text x="253.2" y="187.1" font-size="3.9" text-anchor="middle" font-weight="bold" fill="#111">0 h</text>
<line x1="280.3" y1="181.6" x2="280.3" y2="183" stroke="#1a1a1a" stroke-width="0.6"/>
<text x="280.3" y="187.1" font-size="3.9" text-anchor="middle" font-weight="bold" fill="#111">2 h</text>
<line x1="307.4" y1="181.6" x2="307.4" y2="183" stroke="#1a1a1a" stroke-width="0.6"/>
<text x="307.4" y="187.1" font-size="3.9" text-anchor="middle" font-weight="bold" fill="#111">4 h</text>
<line x1="334.5" y1="181.6" x2="334.5" y2="183" stroke="#1a1a1a" stroke-width="0.6"/>
<text x="334.5" y="187.1" font-size="3.9" text-anchor="middle" font-weight="bold" fill="#111">6 h</text>
<line x1="361.6" y1="181.6" x2="361.6" y2="183" stroke="#1a1a1a" stroke-width="0.6"/>
<text x="361.6" y="187.1" font-size="3.9" text-anchor="middle" font-weight="bold" fill="#111">8 h</text>
<text x="307.4" y="102.6" font-size="7.6" text-anchor="middle" font-weight="bold" fill="#000">Kidney</text>
<text x="234.1" y="143.9" font-size="6.1" text-anchor="middle" fill="#000" transform="rotate(-90 234.1 143.9)">[Rapamycin] (ng/g)</text>
<text x="307.4" y="195.4" font-size="5.8" text-anchor="middle" font-weight="bold" fill="#000">Time after injection</text>
<polyline points="256.59,132.03 266.75,127.37 307.4,137.24 348.05,142.54" fill="none" stroke="#111" stroke-width="0.95" stroke-linejoin="round"/>
<polyline points="256.59,132.03 266.75,127.69 307.4,141.48 348.05,140.48" fill="none" stroke="#111" stroke-width="0.95" stroke-linejoin="round"/>
<polyline points="256.59,132.03 266.75,127.69 307.4,141.92 348.05,141.19" fill="none" stroke="#111" stroke-width="0.95" stroke-linejoin="round"/>
<polyline points="256.59,132.03 266.75,130.83 307.4,143.17 348.05,146.78" fill="none" stroke="#111" stroke-width="0.95" stroke-linejoin="round"/>
<line x1="256.59" y1="129.72" x2="256.59" y2="134.24" stroke="#111" stroke-width="0.7"/>
<line x1="255.39" y1="129.72" x2="257.79" y2="129.72" stroke="#111" stroke-width="0.7"/>
<line x1="255.39" y1="134.24" x2="257.79" y2="134.24" stroke="#111" stroke-width="0.7"/>
<line x1="266.75" y1="124.78" x2="266.75" y2="132.88" stroke="#111" stroke-width="0.7"/>
<line x1="265.55" y1="124.78" x2="267.95" y2="124.78" stroke="#111" stroke-width="0.7"/>
<line x1="265.55" y1="132.88" x2="267.95" y2="132.88" stroke="#111" stroke-width="0.7"/>
<line x1="307.4" y1="134.24" x2="307.4" y2="144.35" stroke="#111" stroke-width="0.7"/>
<line x1="306.2" y1="134.24" x2="308.6" y2="134.24" stroke="#111" stroke-width="0.7"/>
<line x1="306.2" y1="144.35" x2="308.6" y2="144.35" stroke="#111" stroke-width="0.7"/>
<line x1="348.05" y1="138.53" x2="348.05" y2="148.04" stroke="#111" stroke-width="0.7"/>
<line x1="346.85" y1="138.53" x2="349.25" y2="138.53" stroke="#111" stroke-width="0.7"/>
<line x1="346.85" y1="148.04" x2="349.25" y2="148.04" stroke="#111" stroke-width="0.7"/>
<circle cx="256.59" cy="132.03" r="1.5" fill="#fff" stroke="#000" stroke-width="0.6"/>
<circle cx="266.75" cy="127.37" r="1.5" fill="#fff" stroke="#000" stroke-width="0.6"/>
<circle cx="307.4" cy="137.24" r="1.5" fill="#fff" stroke="#000" stroke-width="0.6"/>
<circle cx="348.05" cy="142.54" r="1.5" fill="#fff" stroke="#000" stroke-width="0.6"/>
<polygon points="256.59,130.31 258.24,133.16 254.94,133.16" fill="#888" stroke="#000" stroke-width="0.6"/>
<polygon points="266.75,125.96 268.4,128.81 265.1,128.81" fill="#888" stroke="#000" stroke-width="0.6"/>
<polygon points="307.4,139.75 309.05,142.6 305.75,142.6" fill="#888" stroke="#000" stroke-width="0.6"/>
<polygon points="348.05,138.76 349.7,141.61 346.4,141.61" fill="#888" stroke="#000" stroke-width="0.6"/>
<circle cx="256.59" cy="132.03" r="1.5" fill="#000" stroke="#000" stroke-width="0.6"/>
<circle cx="266.75" cy="127.69" r="1.5" fill="#000" stroke="#000" stroke-width="0.6"/>
<circle cx="307.4" cy="141.92" r="1.5" fill="#000" stroke="#000" stroke-width="0.6"/>
<circle cx="348.05" cy="141.19" r="1.5" fill="#000" stroke="#000" stroke-width="0.6"/>
<polygon points="256.59,130.53 258.09,132.03 256.59,133.53 255.09,132.03" fill="#000" stroke="#000" stroke-width="0.6"/>
<polygon points="266.75,129.33 268.25,130.83 266.75,132.33 265.25,130.83" fill="#000" stroke="#000" stroke-width="0.6"/>
<polygon points="307.4,141.67 308.9,143.17 307.4,144.67 305.9,143.17" fill="#000" stroke="#000" stroke-width="0.6"/>
<polygon points="348.05,145.28 349.55,146.78 348.05,148.28 346.55,146.78" fill="#000" stroke="#000" stroke-width="0.6"/>
<line x1="391.1" y1="105.4" x2="391.1" y2="180.2" stroke="#1a1a1a" stroke-width="0.9"/>
<line x1="391.1" y1="180.2" x2="498.7" y2="180.2" stroke="#1a1a1a" stroke-width="0.9"/>
<line x1="389.6" y1="180.2" x2="391.1" y2="180.2" stroke="#1a1a1a" stroke-width="0.6"/>
<text x="389.1" y="181.75" font-size="4.4" text-anchor="end" font-weight="bold" fill="#111">100</text>
<line x1="389.6" y1="142.8" x2="391.1" y2="142.8" stroke="#1a1a1a" stroke-width="0.6"/>
<text x="389.1" y="144.35" font-size="4.4" text-anchor="end" font-weight="bold" fill="#111">1,000</text>
<line x1="389.6" y1="105.4" x2="391.1" y2="105.4" stroke="#1a1a1a" stroke-width="0.6"/>
<text x="389.1" y="106.95" font-size="4.4" text-anchor="end" font-weight="bold" fill="#111">10,000</text>
<line x1="391.1" y1="180.2" x2="391.1" y2="181.6" stroke="#1a1a1a" stroke-width="0.6"/>
<text x="391.1" y="185.7" font-size="3.9" text-anchor="middle" font-weight="bold" fill="#111">0 h</text>
<line x1="418" y1="180.2" x2="418" y2="181.6" stroke="#1a1a1a" stroke-width="0.6"/>
<text x="418" y="185.7" font-size="3.9" text-anchor="middle" font-weight="bold" fill="#111">2 h</text>
<line x1="444.9" y1="180.2" x2="444.9" y2="181.6" stroke="#1a1a1a" stroke-width="0.6"/>
<text x="444.9" y="185.7" font-size="3.9" text-anchor="middle" font-weight="bold" fill="#111">4 h</text>
<line x1="471.8" y1="180.2" x2="471.8" y2="181.6" stroke="#1a1a1a" stroke-width="0.6"/>
<text x="471.8" y="185.7" font-size="3.9" text-anchor="middle" font-weight="bold" fill="#111">6 h</text>
<line x1="498.7" y1="180.2" x2="498.7" y2="181.6" stroke="#1a1a1a" stroke-width="0.6"/>
<text x="498.7" y="185.7" font-size="3.9" text-anchor="middle" font-weight="bold" fill="#111">8 h</text>
<text x="444.9" y="102.6" font-size="7.6" text-anchor="middle" font-weight="bold" fill="#000">Liver</text>
<text x="372.6" y="143.4" font-size="6.25" text-anchor="middle" fill="#000" transform="rotate(-90 372.6 143.4)">[Rapamycin] (ng/g)</text>
<text x="444.9" y="194" font-size="5.8" text-anchor="middle" font-weight="bold" fill="#000">Time after injection</text>
<polyline points="394.46,130.75 404.55,134.96 444.9,147.82 485.25,149.9" fill="none" stroke="#111" stroke-width="0.95" stroke-linejoin="round"/>
<polyline points="394.46,127.28 404.55,137.1 444.9,148.59 485.25,153.08" fill="none" stroke="#111" stroke-width="0.95" stroke-linejoin="round"/>
<polyline points="394.46,133.71 404.55,135.68 444.9,149.3 485.25,151.1" fill="none" stroke="#111" stroke-width="0.95" stroke-linejoin="round"/>
<polyline points="394.46,135.68 404.55,141.4 444.9,154.06 485.25,157.28" fill="none" stroke="#111" stroke-width="0.95" stroke-linejoin="round"/>
<line x1="394.46" y1="124.96" x2="394.46" y2="137.33" stroke="#111" stroke-width="0.7"/>
<line x1="393.26" y1="124.96" x2="395.66" y2="124.96" stroke="#111" stroke-width="0.7"/>
<line x1="393.26" y1="137.33" x2="395.66" y2="137.33" stroke="#111" stroke-width="0.7"/>
<line x1="404.55" y1="132.37" x2="404.55" y2="143.63" stroke="#111" stroke-width="0.7"/>
<line x1="403.35" y1="132.37" x2="405.75" y2="132.37" stroke="#111" stroke-width="0.7"/>
<line x1="403.35" y1="143.63" x2="405.75" y2="143.63" stroke="#111" stroke-width="0.7"/>
<line x1="444.9" y1="146.42" x2="444.9" y2="155.41" stroke="#111" stroke-width="0.7"/>
<line x1="443.7" y1="146.42" x2="446.1" y2="146.42" stroke="#111" stroke-width="0.7"/>
<line x1="443.7" y1="155.41" x2="446.1" y2="155.41" stroke="#111" stroke-width="0.7"/>
<line x1="485.25" y1="147.69" x2="485.25" y2="160.09" stroke="#111" stroke-width="0.7"/>
<line x1="484.05" y1="147.69" x2="486.45" y2="147.69" stroke="#111" stroke-width="0.7"/>
<line x1="484.05" y1="160.09" x2="486.45" y2="160.09" stroke="#111" stroke-width="0.7"/>
<circle cx="394.46" cy="130.75" r="1.5" fill="#000" stroke="#000" stroke-width="0.6"/>
<circle cx="404.55" cy="134.96" r="1.5" fill="#000" stroke="#000" stroke-width="0.6"/>
<circle cx="444.9" cy="147.82" r="1.5" fill="#000" stroke="#000" stroke-width="0.6"/>
<circle cx="485.25" cy="149.9" r="1.5" fill="#000" stroke="#000" stroke-width="0.6"/>
<polygon points="394.46,125.55 396.11,128.4 392.81,128.4" fill="#888" stroke="#000" stroke-width="0.6"/>
<polygon points="404.55,135.38 406.2,138.23 402.9,138.23" fill="#888" stroke="#000" stroke-width="0.6"/>
<polygon points="444.9,146.87 446.55,149.72 443.25,149.72" fill="#888" stroke="#000" stroke-width="0.6"/>
<polygon points="485.25,151.36 486.9,154.21 483.6,154.21" fill="#888" stroke="#000" stroke-width="0.6"/>
<circle cx="394.46" cy="133.71" r="1.5" fill="#fff" stroke="#000" stroke-width="0.6"/>
<circle cx="404.55" cy="135.68" r="1.5" fill="#fff" stroke="#000" stroke-width="0.6"/>
<circle cx="444.9" cy="149.3" r="1.5" fill="#fff" stroke="#000" stroke-width="0.6"/>
<circle cx="485.25" cy="151.1" r="1.5" fill="#fff" stroke="#000" stroke-width="0.6"/>
<polygon points="394.46,134.18 395.96,135.68 394.46,137.18 392.96,135.68" fill="#000" stroke="#000" stroke-width="0.6"/>
<polygon points="404.55,139.9 406.05,141.4 404.55,142.9 403.05,141.4" fill="#000" stroke="#000" stroke-width="0.6"/>
<polygon points="444.9,152.56 446.4,154.06 444.9,155.56 443.4,154.06" fill="#000" stroke="#000" stroke-width="0.6"/>
<polygon points="485.25,155.78 486.75,157.28 485.25,158.78 483.75,157.28" fill="#000" stroke="#000" stroke-width="0.6"/>
<line x1="258.2" y1="250.6" x2="258.2" y2="280.8" stroke="#1a1a1a" stroke-width="0.8"/>
<line x1="258.2" y1="215.9" x2="258.2" y2="244.6" stroke="#1a1a1a" stroke-width="0.8"/>
<line x1="258.2" y1="280.8" x2="356.8" y2="280.8" stroke="#1a1a1a" stroke-width="1.1"/>
<line x1="256.6" y1="280.8" x2="258.2" y2="280.8" stroke="#1a1a1a" stroke-width="0.6"/>
<text x="256.2" y="282.5" font-size="5" text-anchor="end" fill="#000" style="stroke:#000;stroke-width:0.12">0</text>
<line x1="256.6" y1="273.3" x2="258.2" y2="273.3" stroke="#1a1a1a" stroke-width="0.6"/>
<text x="256.2" y="275" font-size="5" text-anchor="end" fill="#000" style="stroke:#000;stroke-width:0.12">50</text>
<line x1="256.6" y1="265.8" x2="258.2" y2="265.8" stroke="#1a1a1a" stroke-width="0.6"/>
<text x="256.2" y="267.5" font-size="5" text-anchor="end" fill="#000" style="stroke:#000;stroke-width:0.12">100</text>
<line x1="256.6" y1="258.2" x2="258.2" y2="258.2" stroke="#1a1a1a" stroke-width="0.6"/>
<text x="256.2" y="259.9" font-size="5" text-anchor="end" fill="#000" style="stroke:#000;stroke-width:0.12">150</text>
<line x1="256.6" y1="250.6" x2="258.2" y2="250.6" stroke="#1a1a1a" stroke-width="0.6"/>
<text x="256.2" y="252.3" font-size="5" text-anchor="end" fill="#000" style="stroke:#000;stroke-width:0.12">200</text>
<line x1="256.6" y1="241.1" x2="258.2" y2="241.1" stroke="#1a1a1a" stroke-width="0.6"/>
<text x="256.2" y="242.8" font-size="5" text-anchor="end" fill="#000" style="stroke:#000;stroke-width:0.12">500</text>
<line x1="256.6" y1="232.7" x2="258.2" y2="232.7" stroke="#1a1a1a" stroke-width="0.6"/>
<text x="256.2" y="234.4" font-size="5" text-anchor="end" fill="#000" style="stroke:#000;stroke-width:0.12">1,000</text>
<line x1="256.6" y1="224.3" x2="258.2" y2="224.3" stroke="#1a1a1a" stroke-width="0.6"/>
<text x="256.2" y="226" font-size="5" text-anchor="end" fill="#000" style="stroke:#000;stroke-width:0.12">1,500</text>
<line x1="256.6" y1="215.9" x2="258.2" y2="215.9" stroke="#1a1a1a" stroke-width="0.6"/>
<text x="256.2" y="217.6" font-size="5" text-anchor="end" fill="#000" style="stroke:#000;stroke-width:0.12">2,000</text>
<line x1="257" y1="244" x2="259.4" y2="245.2" stroke="#1a1a1a" stroke-width="0.6"/>
<line x1="257" y1="250" x2="259.4" y2="251.2" stroke="#1a1a1a" stroke-width="0.6"/>
<rect x="263.9" y="275.1" width="21.8" height="5.7" fill="#fff" stroke="#000" stroke-width="0.9"/>
<line x1="274.8" y1="275.1" x2="274.8" y2="274" stroke="#1a1a1a" stroke-width="1.1"/>
<line x1="269.5" y1="274" x2="280.1" y2="274" stroke="#1a1a1a" stroke-width="1.1"/>
<rect x="296.2" y="276.3" width="22.2" height="4.5" fill="url(#dots)" stroke="#000" stroke-width="0.9"/>
<line x1="307.3" y1="276.3" x2="307.3" y2="275.4" stroke="#1a1a1a" stroke-width="1.1"/>
<line x1="302" y1="275.4" x2="312.6" y2="275.4" stroke="#1a1a1a" stroke-width="1.1"/>
<rect x="328.5" y="250.6" width="22.3" height="30.2" fill="#000" stroke="#000" stroke-width="0.9"/>
<rect x="328.5" y="228.4" width="22.3" height="17" fill="#000" stroke="#000" stroke-width="0.9"/>
<line x1="339.65" y1="228.4" x2="339.65" y2="224.6" stroke="#1a1a1a" stroke-width="1.1"/>
<line x1="334.35" y1="224.6" x2="344.95" y2="224.6" stroke="#1a1a1a" stroke-width="1.1"/>
<line x1="274.8" y1="280.8" x2="274.8" y2="282.4" stroke="#1a1a1a" stroke-width="0.6"/>
<line x1="307.3" y1="280.8" x2="307.3" y2="282.4" stroke="#1a1a1a" stroke-width="0.6"/>
<line x1="339.65" y1="280.8" x2="339.65" y2="282.4" stroke="#1a1a1a" stroke-width="0.6"/>
<text x="339.65" y="225.3" font-size="9" text-anchor="middle" font-weight="bold" fill="#000">***</text>
<text x="307.2" y="207.2" font-size="6.8" text-anchor="middle" font-weight="bold" fill="#000">Blood</text>
<text x="237.1" y="248" font-size="6.75" text-anchor="middle" font-weight="bold" fill="#000" transform="rotate(-90 237.1 248)">[Rapamycin] (ng/mL)</text>
<line x1="395.3" y1="216" x2="395.3" y2="280.8" stroke="#1a1a1a" stroke-width="0.9"/>
<line x1="395.3" y1="280.8" x2="493.2" y2="280.8" stroke="#1a1a1a" stroke-width="1.1"/>
<line x1="393.7" y1="280.8" x2="395.3" y2="280.8" stroke="#1a1a1a" stroke-width="0.6"/>
<text x="393.3" y="282.5" font-size="5" text-anchor="end" fill="#000" style="stroke:#000;stroke-width:0.12">0</text>
<line x1="393.7" y1="259.2" x2="395.3" y2="259.2" stroke="#1a1a1a" stroke-width="0.6"/>
<text x="393.3" y="260.9" font-size="5" text-anchor="end" fill="#000" style="stroke:#000;stroke-width:0.12">500</text>
<line x1="393.7" y1="237.6" x2="395.3" y2="237.6" stroke="#1a1a1a" stroke-width="0.6"/>
<text x="393.3" y="239.3" font-size="5" text-anchor="end" fill="#000" style="stroke:#000;stroke-width:0.12">1,000</text>
<line x1="393.7" y1="216" x2="395.3" y2="216" stroke="#1a1a1a" stroke-width="0.6"/>
<text x="393.3" y="217.7" font-size="5" text-anchor="end" fill="#000" style="stroke:#000;stroke-width:0.12">1,500</text>
<rect x="400.7" y="241.06" width="21.9" height="39.74" fill="#fff" stroke="#000" stroke-width="1.1"/>
<line x1="411.65" y1="241.06" x2="411.65" y2="236.52" stroke="#1a1a1a" stroke-width="1.1"/>
<line x1="406.35" y1="236.52" x2="416.95" y2="236.52" stroke="#1a1a1a" stroke-width="1.1"/>
<line x1="411.65" y1="280.8" x2="411.65" y2="282.4" stroke="#1a1a1a" stroke-width="0.6"/>
<rect x="433" y="247.97" width="22.4" height="32.83" fill="url(#dots)" stroke="#000" stroke-width="1.1"/>
<line x1="444.2" y1="247.97" x2="444.2" y2="242.35" stroke="#1a1a1a" stroke-width="1.1"/>
<line x1="438.9" y1="242.35" x2="449.5" y2="242.35" stroke="#1a1a1a" stroke-width="1.1"/>
<line x1="444.2" y1="280.8" x2="444.2" y2="282.4" stroke="#1a1a1a" stroke-width="0.6"/>
<rect x="465.3" y="232.42" width="22.4" height="48.38" fill="#000" stroke="#000" stroke-width="1.1"/>
<line x1="476.5" y1="232.42" x2="476.5" y2="224.64" stroke="#1a1a1a" stroke-width="1.1"/>
<line x1="471.2" y1="224.64" x2="481.8" y2="224.64" stroke="#1a1a1a" stroke-width="1.1"/>
<line x1="476.5" y1="280.8" x2="476.5" y2="282.4" stroke="#1a1a1a" stroke-width="0.6"/>
<text x="477.5" y="220.04" font-size="7.4" text-anchor="middle" font-weight="bold" fill="#000" style="font-style:italic">#</text>
<text x="444.25" y="207.6" font-size="6.7" text-anchor="middle" font-weight="bold" fill="#000">Liver</text>
<text x="376.6" y="247" font-size="6.9" text-anchor="middle" font-weight="bold" fill="#000" transform="rotate(-90 376.6 247)">[Rapamycin] (ng/g)</text>
<line x1="257.8" y1="304.4" x2="257.8" y2="368.5" stroke="#1a1a1a" stroke-width="0.9"/>
<line x1="257.8" y1="368.5" x2="356.6" y2="368.5" stroke="#1a1a1a" stroke-width="1.1"/>
<line x1="256.2" y1="368.5" x2="257.8" y2="368.5" stroke="#1a1a1a" stroke-width="0.6"/>
<text x="255.8" y="370.2" font-size="5" text-anchor="end" fill="#000" style="stroke:#000;stroke-width:0.12">0</text>
<line x1="256.2" y1="355.68" x2="257.8" y2="355.68" stroke="#1a1a1a" stroke-width="0.6"/>
<text x="255.8" y="357.38" font-size="5" text-anchor="end" fill="#000" style="stroke:#000;stroke-width:0.12">500</text>
<line x1="256.2" y1="342.86" x2="257.8" y2="342.86" stroke="#1a1a1a" stroke-width="0.6"/>
<text x="255.8" y="344.56" font-size="5" text-anchor="end" fill="#000" style="stroke:#000;stroke-width:0.12">1,000</text>
<line x1="256.2" y1="330.04" x2="257.8" y2="330.04" stroke="#1a1a1a" stroke-width="0.6"/>
<text x="255.8" y="331.74" font-size="5" text-anchor="end" fill="#000" style="stroke:#000;stroke-width:0.12">1,500</text>
<line x1="256.2" y1="317.22" x2="257.8" y2="317.22" stroke="#1a1a1a" stroke-width="0.6"/>
<text x="255.8" y="318.92" font-size="5" text-anchor="end" fill="#000" style="stroke:#000;stroke-width:0.12">2,000</text>
<line x1="256.2" y1="304.4" x2="257.8" y2="304.4" stroke="#1a1a1a" stroke-width="0.6"/>
<text x="255.8" y="306.1" font-size="5" text-anchor="end" fill="#000" style="stroke:#000;stroke-width:0.12">2,500</text>
<rect x="263.5" y="320.55" width="22.1" height="47.95" fill="#fff" stroke="#000" stroke-width="1.1"/>
<line x1="274.55" y1="320.55" x2="274.55" y2="317.22" stroke="#1a1a1a" stroke-width="1.1"/>
<line x1="269.25" y1="317.22" x2="279.85" y2="317.22" stroke="#1a1a1a" stroke-width="1.1"/>
<line x1="274.55" y1="368.5" x2="274.55" y2="370.1" stroke="#1a1a1a" stroke-width="0.6"/>
<rect x="296.4" y="326.96" width="22" height="41.54" fill="url(#dots)" stroke="#000" stroke-width="1.1"/>
<line x1="307.4" y1="326.96" x2="307.4" y2="323.89" stroke="#1a1a1a" stroke-width="1.1"/>
<line x1="302.1" y1="323.89" x2="312.7" y2="323.89" stroke="#1a1a1a" stroke-width="1.1"/>
<line x1="307.4" y1="368.5" x2="307.4" y2="370.1" stroke="#1a1a1a" stroke-width="0.6"/>
<rect x="328.7" y="316.45" width="22" height="52.05" fill="#000" stroke="#000" stroke-width="1.1"/>
<line x1="339.7" y1="316.45" x2="339.7" y2="312.35" stroke="#1a1a1a" stroke-width="1.1"/>
<line x1="334.4" y1="312.35" x2="345" y2="312.35" stroke="#1a1a1a" stroke-width="1.1"/>
<line x1="339.7" y1="368.5" x2="339.7" y2="370.1" stroke="#1a1a1a" stroke-width="0.6"/>
<text x="339.9" y="308.35" font-size="8.3" text-anchor="middle" font-weight="bold" fill="#000">##</text>
<text x="307.2" y="295.5" font-size="6.7" text-anchor="middle" font-weight="bold" fill="#000">Kidney</text>
<text x="239" y="334.2" font-size="6.9" text-anchor="middle" font-weight="bold" fill="#000" transform="rotate(-90 239 334.2)">[Rapamycin] (ng/g)</text>
<line x1="395.4" y1="303.9" x2="395.4" y2="368.5" stroke="#1a1a1a" stroke-width="0.9"/>
<line x1="395.4" y1="368.5" x2="493.2" y2="368.5" stroke="#1a1a1a" stroke-width="1.1"/>
<line x1="393.8" y1="368.5" x2="395.4" y2="368.5" stroke="#1a1a1a" stroke-width="0.6"/>
<text x="393.4" y="370.2" font-size="5" text-anchor="end" fill="#000" style="stroke:#000;stroke-width:0.12">0</text>
<line x1="393.8" y1="352.35" x2="395.4" y2="352.35" stroke="#1a1a1a" stroke-width="0.6"/>
<text x="393.4" y="354.05" font-size="5" text-anchor="end" fill="#000" style="stroke:#000;stroke-width:0.12">50</text>
<line x1="393.8" y1="336.2" x2="395.4" y2="336.2" stroke="#1a1a1a" stroke-width="0.6"/>
<text x="393.4" y="337.9" font-size="5" text-anchor="end" fill="#000" style="stroke:#000;stroke-width:0.12">100</text>
<line x1="393.8" y1="320.05" x2="395.4" y2="320.05" stroke="#1a1a1a" stroke-width="0.6"/>
<text x="393.4" y="321.75" font-size="5" text-anchor="end" fill="#000" style="stroke:#000;stroke-width:0.12">150</text>
<line x1="393.8" y1="303.9" x2="395.4" y2="303.9" stroke="#1a1a1a" stroke-width="0.6"/>
<text x="393.4" y="305.6" font-size="5" text-anchor="end" fill="#000" style="stroke:#000;stroke-width:0.12">200</text>
<rect x="400.4" y="366.24" width="21.6" height="2.26" fill="#fff" stroke="#000" stroke-width="1.1"/>
<line x1="411.2" y1="366.24" x2="411.2" y2="365.59" stroke="#1a1a1a" stroke-width="1.1"/>
<line x1="405.9" y1="365.59" x2="416.5" y2="365.59" stroke="#1a1a1a" stroke-width="1.1"/>
<line x1="411.2" y1="368.5" x2="411.2" y2="370.1" stroke="#1a1a1a" stroke-width="0.6"/>
<rect x="433.3" y="315.53" width="22.1" height="52.97" fill="url(#dots)" stroke="#000" stroke-width="1.1"/>
<line x1="444.35" y1="315.53" x2="444.35" y2="307.45" stroke="#1a1a1a" stroke-width="1.1"/>
<line x1="439.05" y1="307.45" x2="449.65" y2="307.45" stroke="#1a1a1a" stroke-width="1.1"/>
<line x1="444.35" y1="368.5" x2="444.35" y2="370.1" stroke="#1a1a1a" stroke-width="0.6"/>
<text x="444.35" y="307.25" font-size="9" text-anchor="middle" font-weight="bold" fill="#000">***</text>
<rect x="465.6" y="336.85" width="22.1" height="31.65" fill="#000" stroke="#000" stroke-width="1.1"/>
<line x1="476.65" y1="336.85" x2="476.65" y2="330.71" stroke="#1a1a1a" stroke-width="1.1"/>
<line x1="471.35" y1="330.71" x2="481.95" y2="330.71" stroke="#1a1a1a" stroke-width="1.1"/>
<line x1="476.65" y1="368.5" x2="476.65" y2="370.1" stroke="#1a1a1a" stroke-width="0.6"/>
<text x="476.65" y="330.51" font-size="9" text-anchor="middle" font-weight="bold" fill="#000">***</text>
<text x="444.3" y="295.3" font-size="6.7" text-anchor="middle" font-weight="bold" fill="#000">Brain</text>
<text x="379.6" y="336" font-size="6.9" text-anchor="middle" font-weight="bold" fill="#000" transform="rotate(-90 379.6 336)">[Rapamycin] (ng/g)</text>
<text x="276.4" y="378.3" font-size="7.9" text-anchor="end" fill="#000" transform="rotate(-45 276.4 378.3)">WT</text>
<text x="309.3" y="377.3" font-size="7.9" text-anchor="end" fill="#000" transform="rotate(-45 309.3 377.3)">WT+Elacridar</text>
<text x="339.6" y="377.8" font-size="7.9" text-anchor="end" fill="#000" transform="rotate(-45 339.6 377.8)">Abcb1a/b;</text>
<text x="342.6" y="387" font-size="7.9" text-anchor="end" fill="#000" transform="rotate(-45 342.6 387)">Abcg2<tspan font-size="5" dy="-3">-/-</tspan></text>
<text x="412.9" y="378.3" font-size="7.9" text-anchor="end" fill="#000" transform="rotate(-45 412.9 378.3)">WT</text>
<text x="445.8" y="377.3" font-size="7.9" text-anchor="end" fill="#000" transform="rotate(-45 445.8 377.3)">WT+Elacridar</text>
<text x="476.1" y="377.8" font-size="7.9" text-anchor="end" fill="#000" transform="rotate(-45 476.1 377.8)">Abcb1a/b;</text>
<text x="479.1" y="387" font-size="7.9" text-anchor="end" fill="#000" transform="rotate(-45 479.1 387)">Abcg2<tspan font-size="5" dy="-3">-/-</tspan></text>
<line x1="28.5" y1="259.3" x2="28.5" y2="367.2" stroke="#1a1a1a" stroke-width="1"/>
<line x1="28.5" y1="367.2" x2="187.5" y2="367.2" stroke="#1a1a1a" stroke-width="1"/>
<line x1="26.3" y1="367.2" x2="28.5" y2="367.2" stroke="#1a1a1a" stroke-width="1"/>
<text x="24.7" y="369.7" font-size="8" text-anchor="end" font-weight="bold" fill="#000">0</text>
<line x1="26.3" y1="322.45" x2="28.5" y2="322.45" stroke="#1a1a1a" stroke-width="1"/>
<text x="24.7" y="324.95" font-size="8" text-anchor="end" font-weight="bold" fill="#000">50</text>
<line x1="26.3" y1="277.7" x2="28.5" y2="277.7" stroke="#1a1a1a" stroke-width="1"/>
<text x="24.7" y="280.2" font-size="8" text-anchor="end" font-weight="bold" fill="#000">100</text>
<line x1="28.5" y1="367.2" x2="28.5" y2="369.4" stroke="#1a1a1a" stroke-width="1"/>
<text x="28.5" y="379" font-size="8" text-anchor="middle" font-weight="bold" fill="#000">0</text>
<line x1="60.3" y1="367.2" x2="60.3" y2="369.4" stroke="#1a1a1a" stroke-width="1"/>
<text x="60.3" y="379" font-size="8" text-anchor="middle" font-weight="bold" fill="#000">5</text>
<line x1="92.1" y1="367.2" x2="92.1" y2="369.4" stroke="#1a1a1a" stroke-width="1"/>
<text x="92.1" y="379" font-size="8" text-anchor="middle" font-weight="bold" fill="#000">10</text>
<line x1="123.9" y1="367.2" x2="123.9" y2="369.4" stroke="#1a1a1a" stroke-width="1"/>
<text x="123.9" y="379" font-size="8" text-anchor="middle" font-weight="bold" fill="#000">15</text>
<line x1="155.7" y1="367.2" x2="155.7" y2="369.4" stroke="#1a1a1a" stroke-width="1"/>
<text x="155.7" y="379" font-size="8" text-anchor="middle" font-weight="bold" fill="#000">20</text>
<line x1="187.5" y1="367.2" x2="187.5" y2="369.4" stroke="#1a1a1a" stroke-width="1"/>
<text x="187.5" y="379" font-size="8" text-anchor="middle" font-weight="bold" fill="#000">25</text>
<text x="108.8" y="390.5" font-size="8.8" text-anchor="middle" font-weight="bold" fill="#000">Time (hours)</text>
<text x="7.3" y="312.5" font-size="8.9" text-anchor="middle" font-weight="bold" fill="#000" transform="rotate(-90 7.3 312.5)">[Rapamycin] (%)</text>
<text x="109.4" y="247" font-size="10.6" text-anchor="middle" font-weight="bold" fill="#000">Mouse plasma (<tspan font-style="italic">ex vivo</tspan>)</text>
<polyline points="28.5,277.7 30.09,288.44 34.86,304.1 41.22,318.42 53.94,342.32 66.66,357.89 181.14,367.2" fill="none" stroke="#000" stroke-width="1.2" stroke-linejoin="round"/>
<polyline points="28.5,277.7 30.09,279.49 34.86,281.28 41.22,283.96 53.94,288.44 66.66,292.02 181.14,324.24" fill="none" stroke="#000" stroke-width="1.2" stroke-linejoin="round"/>
<polyline points="28.5,277.7 30.09,278.59 34.86,278.59 41.22,279.49 53.94,279.49 66.66,279.49 181.14,314.39" fill="none" stroke="#000" stroke-width="1.2" stroke-linejoin="round"/>
<polyline points="28.5,277.7 30.09,281.28 34.86,283.07 41.22,286.65 53.94,291.12 66.66,309.92 181.14,325.13" fill="none" stroke="#000" stroke-width="1.2" stroke-linejoin="round"/>
<line x1="28.5" y1="259.8" x2="28.5" y2="288.44" stroke="#111" stroke-width="0.8"/>
<line x1="26.9" y1="259.8" x2="30.1" y2="259.8" stroke="#111" stroke-width="0.8"/>
<line x1="26.9" y1="288.44" x2="30.1" y2="288.44" stroke="#111" stroke-width="0.8"/>
<line x1="30.09" y1="271.44" x2="30.09" y2="284.86" stroke="#111" stroke-width="0.8"/>
<line x1="28.49" y1="271.44" x2="31.69" y2="271.44" stroke="#111" stroke-width="0.8"/>
<line x1="28.49" y1="284.86" x2="31.69" y2="284.86" stroke="#111" stroke-width="0.8"/>
<line x1="34.86" y1="273.22" x2="34.86" y2="286.65" stroke="#111" stroke-width="0.8"/>
<line x1="33.26" y1="273.22" x2="36.46" y2="273.22" stroke="#111" stroke-width="0.8"/>
<line x1="33.26" y1="286.65" x2="36.46" y2="286.65" stroke="#111" stroke-width="0.8"/>
<line x1="41.22" y1="280.38" x2="41.22" y2="292.02" stroke="#111" stroke-width="0.8"/>
<line x1="39.62" y1="280.38" x2="42.82" y2="280.38" stroke="#111" stroke-width="0.8"/>
<line x1="39.62" y1="292.02" x2="42.82" y2="292.02" stroke="#111" stroke-width="0.8"/>
<line x1="53.94" y1="275.91" x2="53.94" y2="283.96" stroke="#111" stroke-width="0.8"/>
<line x1="52.34" y1="275.91" x2="55.54" y2="275.91" stroke="#111" stroke-width="0.8"/>
<line x1="52.34" y1="283.96" x2="55.54" y2="283.96" stroke="#111" stroke-width="0.8"/>
<line x1="181.14" y1="311.71" x2="181.14" y2="317.97" stroke="#111" stroke-width="0.8"/>
<line x1="179.54" y1="311.71" x2="182.74" y2="311.71" stroke="#111" stroke-width="0.8"/>
<line x1="179.54" y1="317.97" x2="182.74" y2="317.97" stroke="#111" stroke-width="0.8"/>
<line x1="181.14" y1="320.66" x2="181.14" y2="328.71" stroke="#111" stroke-width="0.8"/>
<line x1="179.54" y1="320.66" x2="182.74" y2="320.66" stroke="#111" stroke-width="0.8"/>
<line x1="179.54" y1="328.71" x2="182.74" y2="328.71" stroke="#111" stroke-width="0.8"/>
<circle cx="28.5" cy="277.7" r="2.3" fill="none" stroke="#000" stroke-width="1.1"/>
<circle cx="30.09" cy="288.44" r="2.3" fill="none" stroke="#000" stroke-width="1.1"/>
<circle cx="34.86" cy="304.1" r="2.3" fill="none" stroke="#000" stroke-width="1.1"/>
<circle cx="41.22" cy="318.42" r="2.3" fill="none" stroke="#000" stroke-width="1.1"/>
<circle cx="53.94" cy="342.32" r="2.3" fill="none" stroke="#000" stroke-width="1.1"/>
<circle cx="66.66" cy="357.89" r="2.3" fill="none" stroke="#000" stroke-width="1.1"/>
<circle cx="181.14" cy="367.2" r="2.3" fill="none" stroke="#000" stroke-width="1.1"/>
<rect x="26.2" y="275.4" width="4.6" height="4.6" fill="none" stroke="#000" stroke-width="1.1"/>
<rect x="27.79" y="277.19" width="4.6" height="4.6" fill="none" stroke="#000" stroke-width="1.1"/>
<rect x="32.56" y="278.98" width="4.6" height="4.6" fill="none" stroke="#000" stroke-width="1.1"/>
<rect x="38.92" y="281.66" width="4.6" height="4.6" fill="none" stroke="#000" stroke-width="1.1"/>
<rect x="51.64" y="286.14" width="4.6" height="4.6" fill="none" stroke="#000" stroke-width="1.1"/>
<rect x="64.36" y="289.72" width="4.6" height="4.6" fill="none" stroke="#000" stroke-width="1.1"/>
<rect x="178.84" y="321.94" width="4.6" height="4.6" fill="none" stroke="#000" stroke-width="1.1"/>
<polygon points="28.5,275.06 31.03,279.43 25.97,279.43" fill="none" stroke="#000" stroke-width="1.1"/>
<polygon points="30.09,275.95 32.62,280.32 27.56,280.32" fill="none" stroke="#000" stroke-width="1.1"/>
<polygon points="34.86,275.95 37.39,280.32 32.33,280.32" fill="none" stroke="#000" stroke-width="1.1"/>
<polygon points="41.22,276.85 43.75,281.22 38.69,281.22" fill="none" stroke="#000" stroke-width="1.1"/>
<polygon points="53.94,276.85 56.47,281.22 51.41,281.22" fill="none" stroke="#000" stroke-width="1.1"/>
<polygon points="66.66,276.85 69.19,281.22 64.13,281.22" fill="none" stroke="#000" stroke-width="1.1"/>
<polygon points="181.14,311.75 183.67,316.12 178.61,316.12" fill="none" stroke="#000" stroke-width="1.1"/>
<polygon points="28.5,280.34 31.03,275.97 25.97,275.97" fill="none" stroke="#000" stroke-width="1.1"/>
<polygon points="30.09,283.92 32.62,279.55 27.56,279.55" fill="none" stroke="#000" stroke-width="1.1"/>
<polygon points="34.86,285.71 37.39,281.34 32.33,281.34" fill="none" stroke="#000" stroke-width="1.1"/>
<polygon points="41.22,289.29 43.75,284.92 38.69,284.92" fill="none" stroke="#000" stroke-width="1.1"/>
<polygon points="53.94,293.77 56.47,289.4 51.41,289.4" fill="none" stroke="#000" stroke-width="1.1"/>
<polygon points="66.66,312.56 69.19,308.19 64.13,308.19" fill="none" stroke="#000" stroke-width="1.1"/>
<polygon points="181.14,327.78 183.67,323.41 178.61,323.41" fill="none" stroke="#000" stroke-width="1.1"/>
<circle cx="28.5" cy="277.7" r="2.5" fill="#000" stroke="#000" stroke-width="0.8"/>
<circle cx="29.14" cy="281.28" r="2.3" fill="#000" stroke="#000" stroke-width="0.8"/>
<circle cx="29.77" cy="284.86" r="2.2" fill="#000" stroke="#000" stroke-width="0.8"/>
<circle cx="30.09" cy="288.44" r="2.1" fill="#fff" stroke="#000" stroke-width="1.2"/>
<line x1="139.3" y1="257.5" x2="149.3" y2="257.5" stroke="#000" stroke-width="1.4"/>
<circle cx="144.3" cy="257.5" r="2.2" fill="none" stroke="#000" stroke-width="1.1"/>
<text x="153.1" y="260.2" font-size="7.6" text-anchor="start" fill="#000">WT</text>
<line x1="139.3" y1="269.65" x2="149.3" y2="269.65" stroke="#000" stroke-width="1.4"/>
<rect x="142.1" y="267.45" width="4.4" height="4.4" fill="none" stroke="#000" stroke-width="1.1"/>
<text x="153.1" y="272.35" font-size="7.6" text-anchor="start" fill="#000">Abcg2<tspan font-size="5.4" dy="-3.3">-/-</tspan></text>
<line x1="139.3" y1="281.8" x2="149.3" y2="281.8" stroke="#000" stroke-width="1.4"/>
<polygon points="144.3,279.27 146.72,283.45 141.88,283.45" fill="none" stroke="#000" stroke-width="1.1"/>
<text x="153.1" y="284.5" font-size="7.6" text-anchor="start" fill="#000">Abcb1a/b<tspan font-size="5.4" dy="-3.3">-/-</tspan></text>
<line x1="139.3" y1="293.95" x2="149.3" y2="293.95" stroke="#000" stroke-width="1.4"/>
<polygon points="144.3,296.48 146.72,292.3 141.88,292.3" fill="none" stroke="#000" stroke-width="1.1"/>
<text x="153.1" y="296.65" font-size="7.6" text-anchor="start" fill="#000">Abcb1a/b;Abcg2<tspan font-size="5.4" dy="-3.3">-/-</tspan></text>
</svg>
</body></html>
